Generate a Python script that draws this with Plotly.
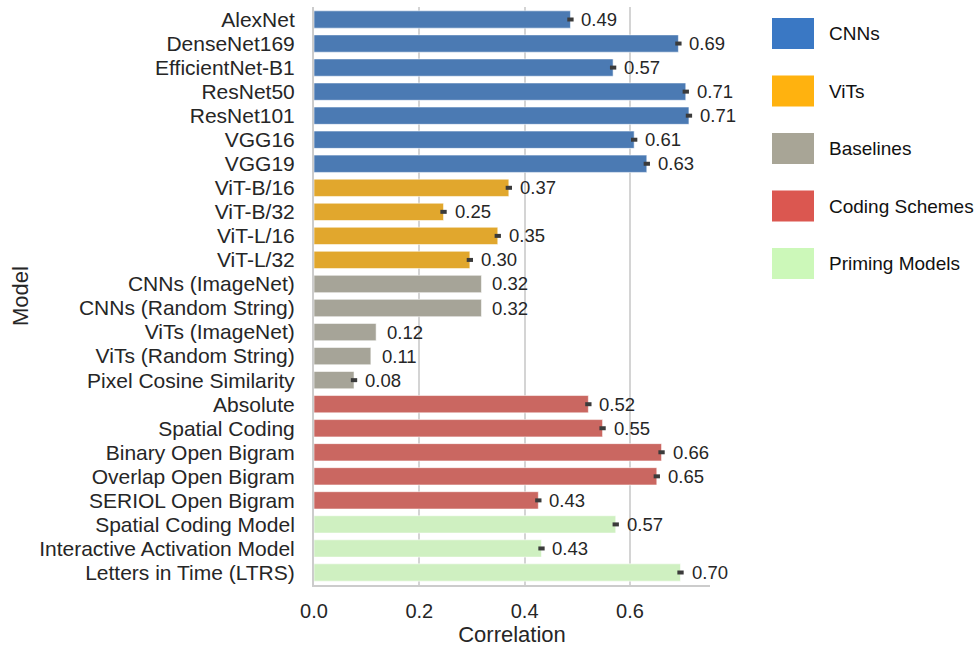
import colorsys
import plotly.graph_objects as go

# ---- data -------------------------------------------------------------
models = [
    "AlexNet", "DenseNet169", "EfficientNet-B1", "ResNet50", "ResNet101",
    "VGG16", "VGG19",
    "ViT-B/16", "ViT-B/32", "ViT-L/16", "ViT-L/32",
    "CNNs (ImageNet)", "CNNs (Random String)", "ViTs (ImageNet)",
    "ViTs (Random String)", "Pixel Cosine Similarity",
    "Absolute", "Spatial Coding", "Binary Open Bigram", "Overlap Open Bigram",
    "SERIOL Open Bigram",
    "Spatial Coding Model", "Interactive Activation Model",
    "Letters in Time (LTRS)",
]
correlation = [
    0.487, 0.692, 0.568, 0.706, 0.712, 0.608, 0.632,
    0.370, 0.246, 0.349, 0.296,
    0.318, 0.318, 0.118, 0.108, 0.076,
    0.521, 0.548, 0.660, 0.651, 0.426,
    0.573, 0.432, 0.696,
]
ci_half = [
    0.006, 0.006, 0.006, 0.006, 0.006, 0.006, 0.006,
    0.006, 0.006, 0.006, 0.006,
    0.0, 0.0, 0.0, 0.0, 0.006,
    0.006, 0.006, 0.006, 0.006, 0.006,
    0.006, 0.006, 0.006,
]
group = (["CNNs"] * 7 + ["ViTs"] * 4 + ["Baselines"] * 5
         + ["Coding Schemes"] * 5 + ["Priming Models"] * 3)

groups = ["CNNs", "ViTs", "Baselines", "Coding Schemes", "Priming Models"]
group_colors = ["#3a78c4", "#ffb20f", "#a8a596", "#db5750", "#ccf8b9"]
x_ticks = [0.0, 0.2, 0.4, 0.6]


def desaturate(hex_color, factor=0.75):
    r, g, b = (int(hex_color[i:i + 2], 16) / 255 for i in (1, 3, 5))
    h, l, s = colorsys.rgb_to_hls(r, g, b)
    r, g, b = colorsys.hls_to_rgb(h, l, s * factor)
    return "#%02x%02x%02x" % tuple(round(v * 255) for v in (r, g, b))


bar_color = {g: desaturate(c) for g, c in zip(groups, group_colors)}

FONT = "Liberation Sans, Arial, Helvetica, sans-serif"
INK = "#262626"

fig = go.Figure()
fig.add_trace(go.Bar(
    y=models,
    x=correlation,
    orientation="h",
    width=0.72,
    marker=dict(color=[bar_color[g] for g in group],
                line=dict(color="rgba(255,255,255,0.55)", width=1)),
    error_x=dict(type="data", array=ci_half, symmetric=True,
                 color="#3b3b3b", thickness=4, width=0),
    showlegend=False,
    hoverinfo="x+y",
))

# value labels next to each bar
for m, v in zip(models, correlation):
    fig.add_annotation(
        x=v, y=m, xref="x", yref="y",
        text=f"{v:.2f}", showarrow=False,
        xanchor="left", yanchor="middle", xshift=9,
        font=dict(family=FONT, size=18.5, color=INK),
    )

# legend with large colour patches
legend_top = 18
legend_step = 57.5
for i, (g, c) in enumerate(zip(groups, group_colors)):
    y0 = legend_top + i * legend_step
    fig.add_shape(
        type="rect", xref="paper", yref="paper",
        x0=(772 - 314) / 396, x1=(814 - 314) / 396,
        y0=1 - (y0 - 7) / 578, y1=1 - (y0 + 31 - 7) / 578,
        fillcolor=c, line=dict(width=0),
    )
    fig.add_annotation(
        x=(827 - 314) / 396, y=1 - (y0 + 15.5 - 7) / 578,
        xref="paper", yref="paper", text=g, showarrow=False,
        xanchor="left", yanchor="middle",
        font=dict(family=FONT, size=19, color="#111111"),
    )

fig.update_layout(
    width=977, height=650,
    margin=dict(l=314, r=267, t=7, b=65),
    plot_bgcolor="white", paper_bgcolor="white",
    font=dict(family=FONT, size=20, color=INK),
    bargap=0.28,
    xaxis=dict(
        range=[0, 0.752], tickvals=x_ticks, ticktext=[f"{t:.1f}" for t in x_ticks],
        showgrid=True, gridcolor="#d4d4d4", gridwidth=2,
        zeroline=False, showline=True, linecolor="#cccccc", linewidth=2,
        ticks="", ticklabelstandoff=7,
        title=dict(text="Correlation", font=dict(size=22, color=INK), standoff=6),
        tickfont=dict(size=20, color=INK),
    ),
    yaxis=dict(
        categoryorder="array", categoryarray=models, autorange="reversed",
        tickmode="array", tickvals=models, ticktext=models,
        showgrid=False, zeroline=False, showline=True,
        linecolor="#cccccc", linewidth=2,
        ticks="", ticklabelstandoff=13,
        title=dict(text="Model", font=dict(size=22, color=INK), standoff=4),
        tickfont=dict(size=21, color=INK),
    ),
)

fig.write_html("out.html")
